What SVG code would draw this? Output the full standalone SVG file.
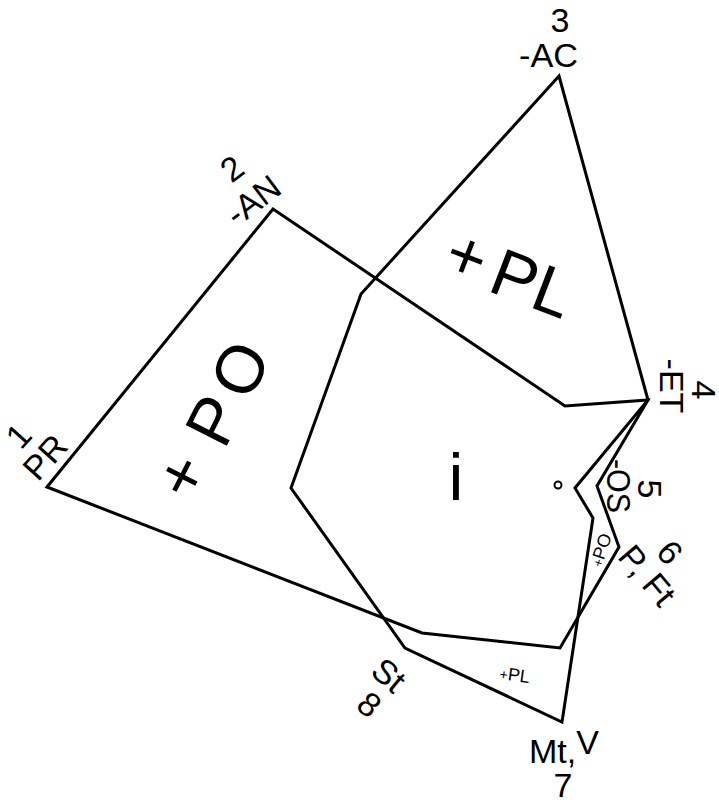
<svg xmlns="http://www.w3.org/2000/svg" width="719" height="803" viewBox="0 0 719 803">
<style>
.ln{fill:none;stroke:#000;stroke-width:3;stroke-linejoin:miter}
.t{font-family:"Liberation Sans",Arial,sans-serif;font-size:34px;fill:#000}
.big{font-family:"Liberation Sans",Arial,sans-serif;font-size:67px;fill:#000}
.sm{font-family:"Liberation Sans",Arial,sans-serif;font-size:18px;fill:#000}
</style>
<rect width="719" height="803" fill="#fff"/>
<g id="connectors">
<path id="poly-PO" class="ln" d="M47,487 L273,209 L565,406 L648,400 L597,486 L619,547 L560,648 L422,633 Z"/>
<path id="poly-PL" class="ln" d="M559,76 L648,400 L575,488 L593,518 L562,722 L405,648 L291,488 L361,294 Z"/>
<circle cx="558" cy="485" r="3.5" fill="none" stroke="#000" stroke-width="2"/>
</g>
<g id="n3">
<text class="t" x="560" y="32" text-anchor="middle">3</text>
<text class="t" x="519" y="67" textLength="59" lengthAdjust="spacingAndGlyphs">-AC</text>
</g>
<g id="n2" transform="translate(253,200) rotate(-37)">
<text class="t" x="2" y="-26" text-anchor="middle">2</text>
<text class="t" x="0" y="12" text-anchor="middle">-AN</text>
</g>
<g id="n1" transform="translate(45,457) rotate(-48)">
<text class="t" x="-2" y="-22" text-anchor="middle">1</text>
<text class="t" x="0" y="12" text-anchor="middle">PR</text>
</g>
<g id="n4" transform="translate(672,386) rotate(90)">
<text class="t" x="4" y="-20" text-anchor="middle">4</text>
<text class="t" x="0" y="12" text-anchor="middle">-ET</text>
</g>
<g id="n5" transform="translate(619,486) rotate(90)">
<text class="t" x="3" y="-19" text-anchor="middle">5</text>
<text class="t" x="0" y="12" text-anchor="middle" textLength="54" lengthAdjust="spacingAndGlyphs">-OS</text>
</g>
<g id="n6" transform="translate(648,576) rotate(50)">
<text class="t" x="-4" y="-20" text-anchor="middle">6</text>
<text class="t" x="-1" y="12" text-anchor="middle">P, Ft</text>
</g>
<g id="n7">
<text class="t" x="529" y="763">Mt,<tspan dy="-9">V</tspan></text>
<text class="t" x="563" y="797" text-anchor="middle">7</text>
</g>
<g id="n8" transform="translate(389,675) rotate(40)">
<text class="t" x="0" y="12" text-anchor="middle">St</text>
<text class="t" x="4" y="47" text-anchor="middle">8</text>
</g>
<g id="region-PL" transform="translate(510,278) rotate(21)">
<text class="big" x="-48" y="18" text-anchor="middle" font-size="54">+</text>
<text class="big" x="-18" y="20">PL</text>
</g>
<g id="region-PO" transform="translate(212,422) rotate(-63)">
<text class="big" x="-62" y="20" text-anchor="middle" font-size="54">+</text>
<text class="big" x="-20" y="24" letter-spacing="9">PO</text>
</g>
<g id="region-i">
<text class="big" x="456" y="500" text-anchor="middle" font-size="74">i</text>
</g>
<g id="region-PO-small" transform="translate(601,550) rotate(-71)">
<text class="sm" x="0" y="6" text-anchor="middle"><tspan font-size="13">+</tspan>PO</text>
</g>
<g id="region-PL-small" transform="translate(515,674) rotate(8)">
<text class="sm" x="0" y="7" text-anchor="middle" font-size="20"><tspan font-size="14">+</tspan>PL</text>
</g>
</svg>
